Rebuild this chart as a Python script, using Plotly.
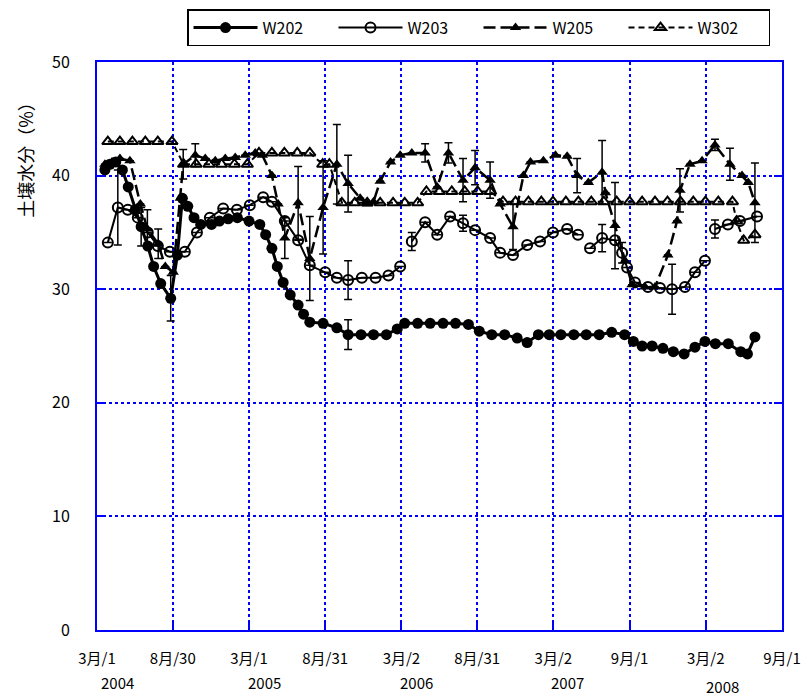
import plotly.graph_objects as go

# ---------------- data ----------------
w202_dates = ["2004-03-20","2004-04-01","2004-04-15","2004-05-01","2004-05-15","2004-06-01","2004-06-15",
              "2004-07-01","2004-07-15","2004-08-01","2004-08-25","2004-09-10","2004-09-22","2004-10-05",
              "2004-10-20","2004-11-05","2004-12-01","2004-12-20","2005-01-10","2005-02-01","2005-03-01",
              "2005-03-27","2005-04-10","2005-04-25","2005-05-08","2005-05-22","2005-06-08","2005-06-27",
              "2005-07-10","2005-07-25","2005-08-26","2005-09-28","2005-10-25","2005-11-25","2005-12-25",
              "2006-01-25","2006-02-20","2006-03-10","2006-04-10","2006-05-10","2006-06-10","2006-07-10",
              "2006-08-10","2006-09-05","2006-10-05","2006-11-05","2006-12-05","2006-12-29","2007-01-25",
              "2007-02-20","2007-03-20","2007-04-20","2007-05-20","2007-06-20","2007-07-20","2007-08-20",
              "2007-09-10","2007-10-01","2007-10-25","2007-11-20","2007-12-15","2008-01-10","2008-02-05",
              "2008-02-29","2008-03-25","2008-04-25","2008-05-25","2008-06-10","2008-06-28"]
w202_vals = [40.5,41.0,41.2,40.5,39.0,37.0,35.5,
             33.8,32.0,30.5,29.2,33.0,38.0,37.3,
             36.3,35.7,35.7,36.0,36.2,36.3,36.0,
             35.7,34.8,33.6,32.0,30.6,29.5,28.6,
             27.8,27.1,27.0,26.6,26.0,26.0,26.0,
             26.0,26.5,27.0,27.0,27.0,27.0,27.0,
             26.9,26.3,26.0,26.0,25.7,25.3,26.0,
             26.0,26.0,26.0,26.0,26.0,26.2,26.0,
             25.4,25.0,25.0,24.8,24.5,24.3,24.9,
             25.4,25.2,25.2,24.5,24.3,25.8]
w202_err = [0,0,0,0,0,0,1.7,
            0,0,0,2.0,0,0,0,
            0,0,0,0,0,0,0,
            0,0,0,0,0,0,0,
            0,0,0,0,1.3,0,0,
            0,0,0,0,0,0,0,
            0,0,0,0,0,0,0,
            0,0,0,0,0,0,0,
            0,0,0,0,0,0,0,
            0,0,0,0,0,0]

w203_dates = ["2004-03-27","2004-04-20","2004-05-14","2004-06-07","2004-07-01","2004-07-25","2004-08-23",
              "2004-09-28","2004-10-27","2004-11-27","2004-12-29","2005-01-31","2005-03-03","2005-04-04",
              "2005-04-25","2005-05-26","2005-06-27","2005-07-25","2005-08-31","2005-09-28","2005-10-25",
              "2005-11-27","2005-12-30","2006-01-30","2006-02-27","2006-03-12","2006-03-27","2006-04-28",
              "2006-05-27","2006-06-27","2006-07-28","2006-08-26","2006-10-01","2006-10-25","2006-11-25",
              "2006-12-29","2007-01-29","2007-03-01","2007-04-04","2007-04-30","2007-05-14","2007-05-29",
              "2007-06-27","2007-07-28","2007-08-14","2007-08-26","2007-09-14","2007-10-15","2007-11-13",
              "2007-12-12","2008-01-12","2008-02-05","2008-02-29","2008-03-12","2008-03-24","2008-04-24",
              "2008-05-23","2008-07-03"]
w203_vals = [34.1,37.2,37.0,36.3,35.0,33.8,33.3,
             33.3,35.0,36.3,37.1,37.0,37.4,38.1,
             37.7,36.0,34.3,32.1,31.5,31.0,30.8,
             31.0,31.0,31.2,32.0,None,34.2,35.9,
             34.8,36.4,35.8,35.2,34.5,33.2,33.0,
             33.9,34.2,35.0,35.3,34.8,None,33.6,
             34.5,34.3,33.2,31.9,30.6,30.2,30.1,
             30.0,30.2,31.5,32.5,None,35.3,35.7,
             36.0,36.4]
w203_err = [0,3.3,0,0,0,0,0,
            0,0,0,0,0,0,0,
            0,0,0,0,0,0,1.7,
            0,0,0,0,0,0.8,0,
            0,0,0.7,0,0,0,0,
            0,0,0,0,0,0,0,
            1.2,0,0.9,0,0,0,0,
            2.2,0,0,0,0,0.8,0,
            0,0]

w205_dates = ["2004-03-20","2004-04-06","2004-04-25","2004-05-19","2004-06-13","2004-06-30","2004-07-26",
              "2004-08-12","2004-08-31","2004-09-17","2004-09-24","2004-10-23","2004-11-16","2004-12-10",
              "2005-01-03","2005-01-27","2005-02-20","2005-03-16","2005-04-02","2005-04-25","2005-05-10",
              "2005-05-26","2005-06-27","2005-07-25","2005-08-26","2005-09-28","2005-10-25","2005-11-23",
              "2005-12-10","2005-12-25","2006-01-10","2006-02-04","2006-02-27","2006-03-27","2006-04-28",
              "2006-05-27","2006-06-23","2006-07-28","2006-08-26","2006-10-01","2006-10-25","2006-11-25",
              "2006-12-20","2007-01-06","2007-02-06","2007-03-07","2007-04-04","2007-04-28","2007-05-25",
              "2007-06-27","2007-07-05","2007-07-28","2007-08-21","2007-09-07","2007-10-08","2007-11-01",
              "2007-12-02","2007-12-24","2007-12-31","2008-01-24","2008-02-22","2008-03-24","2008-04-29",
              "2008-05-28","2008-06-12","2008-06-28"]
w205_vals = [41.0,41.2,41.5,41.3,37.5,35.3,34.0,
             32.0,31.5,38.0,41.0,41.8,41.5,41.3,
             41.5,41.6,41.8,42.0,41.8,40.0,37.5,
             34.5,37.6,32.7,37.2,41.0,39.3,38.0,
             37.5,37.7,39.5,41.2,41.8,42.0,42.0,
             39.0,42.0,39.6,40.7,39.6,37.5,35.5,
             40.0,41.2,41.3,41.8,41.7,40.0,39.4,
             40.3,38.5,35.6,32.5,30.4,30.2,30.2,
             33.0,36.0,38.7,41.0,41.3,42.7,41.0,
             40.0,39.4,37.6]
w205_err = [0,0,0,0,0,1.7,1.3,
            0,0,0,1.3,1.0,0,0,
            0,0,0,0,0,0,0,
            1.8,3.2,3.7,4.1,3.5,2.5,0,
            0,0,0,0,0,0,0.8,
            0,0.9,1.9,1.5,1.6,0,2.0,
            0,0,0,0,0,1.5,0,
            2.8,0,3.8,0,0,0,0,
            0,0,1.9,0,0,0.5,1.4,
            0,0,3.5]

w302_dates = ["2004-03-27","2004-04-25","2004-05-25","2004-06-25","2004-07-25","2004-08-28","2004-09-25",
              "2004-10-25","2004-11-25","2004-12-25","2005-01-25","2005-02-25","2005-03-25","2005-04-25",
              "2005-05-25","2005-06-25","2005-07-25","2005-08-25","2005-09-10","2005-10-10","2005-11-10",
              "2005-12-10","2006-01-10","2006-02-10","2006-03-10","2006-04-10","2006-05-01","2006-06-01",
              "2006-07-01","2006-08-01","2006-09-01","2006-10-01","2006-11-01","2006-12-01","2007-01-01",
              "2007-02-01","2007-03-01","2007-04-01","2007-05-01","2007-06-01","2007-07-01","2007-08-01",
              "2007-09-01","2007-10-01","2007-11-01","2007-12-01","2008-01-01","2008-02-01","2008-03-01",
              "2008-04-01","2008-05-05","2008-05-15","2008-06-01","2008-06-28"]
w302_vals = [43.0,43.0,43.0,43.0,43.0,43.0,41.0,
             41.0,41.0,41.0,41.0,41.0,42.0,42.0,
             42.0,42.0,42.0,41.0,41.0,37.6,37.6,
             37.6,37.6,37.6,37.6,37.6,38.6,38.6,
             38.6,38.6,38.6,38.6,37.7,37.7,37.7,
             37.7,37.7,37.7,37.7,37.7,37.7,37.7,
             37.7,37.7,37.7,37.7,37.7,37.7,37.7,
             37.7,37.7,36.0,34.3,34.8]

tick_dates = ["2004-03-01","2004-08-30","2005-03-01","2005-08-31","2006-03-02",
              "2006-08-31","2007-03-02","2007-09-01","2008-03-02","2008-09-01"]
tick_labels = ["3月/1","8月/30","3月/1","8月/31","3月/2","8月/31","3月/2","9月/1","3月/2","9月/1"]
year_labels = ["2004","2005","2006","2007","2008"]
year_dates = ["2004-04-20","2005-04-08","2006-04-08","2007-04-04","2008-04-10"]

# ---------------- figure ----------------
FONT = "Noto Sans CJK JP"
BLUE = "#0000ff"
fig = go.Figure()

def err(e):
    return dict(type="data", array=e, visible=True, color="black", thickness=1.5, width=4)

fig.add_trace(go.Scatter(x=w202_dates, y=w202_vals, name="W202", mode="lines+markers",
                         line=dict(color="black", width=3),
                         marker=dict(symbol="circle", size=11, color="black"),
                         error_y=err(w202_err)))
fig.add_trace(go.Scatter(x=w203_dates, y=w203_vals, name="W203", mode="lines+markers",
                         line=dict(color="black", width=2),
                         marker=dict(symbol="circle-open", size=10, color="black", line=dict(width=2)),
                         error_y=err(w203_err)))
fig.add_trace(go.Scatter(x=w205_dates, y=w205_vals, name="W205", mode="lines+markers",
                         line=dict(color="black", width=2.5, dash="12px,5px"),
                         marker=dict(symbol="triangle-up", size=10, color="black"),
                         error_y=err(w205_err)))
fig.add_trace(go.Scatter(x=w302_dates, y=w302_vals, name="W302", mode="lines+markers",
                         line=dict(color="black", width=2, dash="6px,4px"),
                         marker=dict(symbol="triangle-up-open", size=10, color="black", line=dict(width=2))))

for yl, yd in zip(year_labels, year_dates):
    fig.add_annotation(x=yd, y=-0.093 if yl != "2008" else -0.1, xref="x", yref="paper",
                       xanchor="center", yanchor="middle",
                       text=yl, showarrow=False, font=dict(family=FONT, size=15, color="black"))

fig.add_annotation(x=-0.105, y=0.835, xref="paper", yref="paper", text="土壌水分（%）",
                   xanchor="center", yanchor="middle",
                   textangle=-90, showarrow=False, font=dict(family=FONT, size=18, color="black"))

fig.update_layout(
    width=801, height=691,
    margin=dict(l=89, r=27, t=54, b=69, autoexpand=False),
    paper_bgcolor="white", plot_bgcolor="white",
    font=dict(family=FONT, size=15, color="black"),
    showlegend=True,
    legend=dict(orientation="h", x=0.1314, y=1.093, xanchor="left", yanchor="top",
                bordercolor="black", borderwidth=1.5, bgcolor="white",
                font=dict(family=FONT, size=16, color="black"),
                itemwidth=64, entrywidth=66, entrywidthmode="pixels", tracegroupgap=0),
    xaxis=dict(type="date", range=["2004-03-01", "2008-09-01"],
               tickmode="array", tickvals=tick_dates, ticktext=tick_labels,
               showgrid=True, gridcolor=BLUE, griddash="dot", gridwidth=1.5,
               showline=True, linecolor=BLUE, linewidth=2, mirror=True,
               ticks="inside", ticklen=8, tickcolor=BLUE, tickwidth=1.5,
               ticklabelstandoff=14,
               tickfont=dict(family=FONT, size=15, color="black"), zeroline=False),
    yaxis=dict(range=[0, 50], dtick=10, tick0=0,
               showgrid=True, gridcolor=BLUE, griddash="dot", gridwidth=1.5,
               showline=True, linecolor=BLUE, linewidth=2, mirror="ticks",
               ticks="inside", ticklen=8, tickcolor=BLUE, tickwidth=1.5,
               ticklabelstandoff=22,
               tickfont=dict(family=FONT, size=16, color="black"), zeroline=False),
)

fig.write_html("out.html")
